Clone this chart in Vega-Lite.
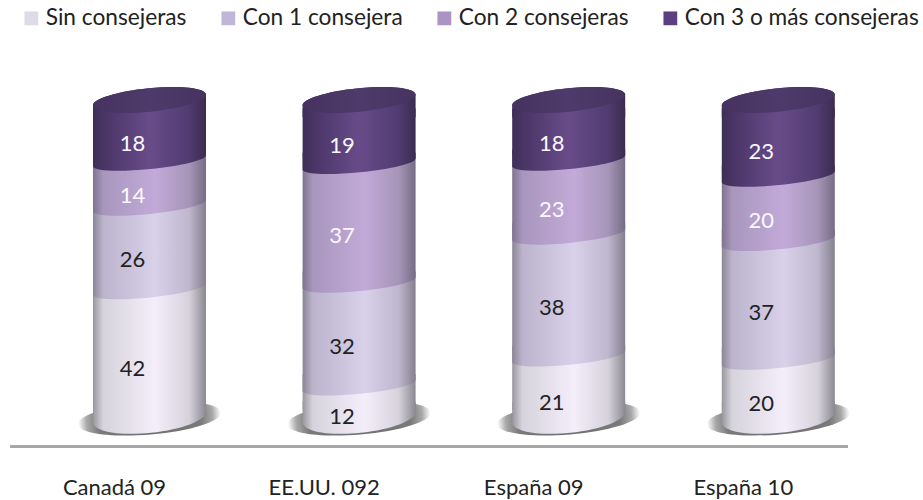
{
  "$schema": "https://vega.github.io/schema/vega-lite/v6.json",
  "width": 838,
  "height": 446,
  "autosize": {"type": "none"},
  "padding": {"left": 10, "top": 0, "right": 75, "bottom": 54},
  "background": "white",
  "config": {"view": {"stroke": null}, "font": "Lato"},
  "data": {"values": [
    {"category": "Canadá 09", "series": "Sin consejeras", "order": 1, "value": 42},
    {"category": "Canadá 09", "series": "Con 1 consejera", "order": 2, "value": 26},
    {"category": "Canadá 09", "series": "Con 2 consejeras", "order": 3, "value": 14},
    {"category": "Canadá 09", "series": "Con 3 o más consejeras", "order": 4, "value": 18},
    {"category": "EE.UU. 092", "series": "Sin consejeras", "order": 1, "value": 12},
    {"category": "EE.UU. 092", "series": "Con 1 consejera", "order": 2, "value": 32},
    {"category": "EE.UU. 092", "series": "Con 2 consejeras", "order": 3, "value": 37},
    {"category": "EE.UU. 092", "series": "Con 3 o más consejeras", "order": 4, "value": 19},
    {"category": "España 09", "series": "Sin consejeras", "order": 1, "value": 21},
    {"category": "España 09", "series": "Con 1 consejera", "order": 2, "value": 38},
    {"category": "España 09", "series": "Con 2 consejeras", "order": 3, "value": 23},
    {"category": "España 09", "series": "Con 3 o más consejeras", "order": 4, "value": 18},
    {"category": "España 10", "series": "Sin consejeras", "order": 1, "value": 20},
    {"category": "España 10", "series": "Con 1 consejera", "order": 2, "value": 37},
    {"category": "España 10", "series": "Con 2 consejeras", "order": 3, "value": 20},
    {"category": "España 10", "series": "Con 3 o más consejeras", "order": 4, "value": 23}
  ]},
  "transform": [
    {"stack": "value", "groupby": ["category"], "sort": [{"field": "order", "order": "ascending"}], "as": ["y0", "y1"]}
  ],
  "encoding": {
    "x": {
      "field": "category", "type": "nominal", "sort": null, "title": null,
      "scale": {"range": [34.7, 873.1], "paddingInner": 0, "paddingOuter": 0},
      "axis": {"domain": false, "ticks": false, "labelAngle": 0, "labelFontSize": 22, "labelColor": "#222222", "labelOffset": -35, "labelPadding": 31, "labelFont": "Lato", "labelFontWeight": "normal"}
    }
  },
  "layer": [
    {
      "transform": [{"filter": "datum.order === 1"}],
      "mark": {"type": "point", "filled": true, "opacity": 1, "size": 20449, "shape": "M-1,0.084 A1.0035,0.225,-4.8,1,0,1,-0.084 A1.0035,0.225,-4.8,1,0,-1,0.084 Z",
        "fill": {"gradient": "radial", "x1": 0.5, "y1": 0.5, "r1": 0, "x2": 0.5, "y2": 0.5, "r2": 0.5, "stops": [
          {"offset": 0, "color": "#6e6e6e"}, {"offset": 0.72, "color": "#7a7a7a"}, {"offset": 0.88, "color": "#a8a8a8"}, {"offset": 1, "color": "#ffffff"}]}},
      "encoding": {"y": {"field": "y0", "type": "quantitative", "title": null, "axis": null, "scale": {"domain": [0, 100], "range": [418.4, 97.4]}}}
    },
    {
      "mark": {"type": "rule", "color": "#a6a6a6", "strokeWidth": 2},
      "encoding": {"x": {"value": 0}, "x2": {"value": 838}, "y": {"datum": -8.8, "type": "quantitative"}}
    },
    {
      "transform": [{"filter": "datum.order === 1"}],
      "mark": {"type": "bar", "width": 113, "y2Offset": -8, "fill": {"gradient": "linear", "x1": 0, "x2": 1, "y1": 0, "y2": 0, "stops": [
        {"offset": 0, "color": "#98969e"}, {"offset": 0.09, "color": "#d6d3dc"}, {"offset": 0.55, "color": "#f4eefa"}, {"offset": 0.85, "color": "#d6d2dc"}, {"offset": 1, "color": "#8a8890"}]}},
      "encoding": {"y": {"field": "y1", "type": "quantitative"}, "y2": {"field": "y0"}}
    },
    {
      "transform": [{"filter": "datum.order === 1"}],
      "mark": {"type": "point", "filled": true, "opacity": 1, "size": 12769, "shape": "M-1,0.075 A1.005,0.284,-5.71,0,0,1,-0.125 L1,-0.3 L-1,-0.3 Z",
        "fill": {"gradient": "linear", "x1": 0, "x2": 1, "y1": 0, "y2": 0, "stops": [
        {"offset": 0, "color": "#98969e"}, {"offset": 0.09, "color": "#d6d3dc"}, {"offset": 0.55, "color": "#f4eefa"}, {"offset": 0.85, "color": "#d6d2dc"}, {"offset": 1, "color": "#8a8890"}]}},
      "encoding": {"y": {"field": "y0", "type": "quantitative"}}
    },
    {
      "transform": [{"filter": "datum.order === 2"}],
      "mark": {"type": "bar", "width": 113, "fill": {"gradient": "linear", "x1": 0, "x2": 1, "y1": 0, "y2": 0, "stops": [
        {"offset": 0, "color": "#8b8696"}, {"offset": 0.09, "color": "#bcb4cc"}, {"offset": 0.55, "color": "#d9d0ea"}, {"offset": 0.85, "color": "#beb7cd"}, {"offset": 1, "color": "#85808f"}]}},
      "encoding": {"y": {"field": "y1", "type": "quantitative"}, "y2": {"field": "y0"}}
    },
    {
      "transform": [{"filter": "datum.order === 2"}],
      "mark": {"type": "point", "filled": true, "opacity": 1, "size": 12769, "shape": "M-1,0.2 A1.005,0.147,-5.71,0,0,1,0 L1,-0.1 L-1,-0.1 Z",
        "fill": {"gradient": "linear", "x1": 0, "x2": 1, "y1": 0, "y2": 0, "stops": [
        {"offset": 0, "color": "#8b8696"}, {"offset": 0.09, "color": "#bcb4cc"}, {"offset": 0.55, "color": "#d9d0ea"}, {"offset": 0.85, "color": "#beb7cd"}, {"offset": 1, "color": "#85808f"}]}},
      "encoding": {"y": {"field": "y0", "type": "quantitative"}}
    },
    {
      "transform": [{"filter": "datum.order === 3"}],
      "mark": {"type": "bar", "width": 113, "fill": {"gradient": "linear", "x1": 0, "x2": 1, "y1": 0, "y2": 0, "stops": [
        {"offset": 0, "color": "#7f738e"}, {"offset": 0.09, "color": "#a896bd"}, {"offset": 0.55, "color": "#c2aad8"}, {"offset": 0.85, "color": "#a695b8"}, {"offset": 1, "color": "#776c85"}]}},
      "encoding": {"y": {"field": "y1", "type": "quantitative"}, "y2": {"field": "y0"}}
    },
    {
      "transform": [{"filter": "datum.order === 3"}],
      "mark": {"type": "point", "filled": true, "opacity": 1, "size": 12769, "shape": "M-1,0.2 A1.005,0.147,-5.71,0,0,1,0 L1,-0.1 L-1,-0.1 Z",
        "fill": {"gradient": "linear", "x1": 0, "x2": 1, "y1": 0, "y2": 0, "stops": [
        {"offset": 0, "color": "#7f738e"}, {"offset": 0.09, "color": "#a896bd"}, {"offset": 0.55, "color": "#c2aad8"}, {"offset": 0.85, "color": "#a695b8"}, {"offset": 1, "color": "#776c85"}]}},
      "encoding": {"y": {"field": "y0", "type": "quantitative"}}
    },
    {
      "transform": [{"filter": "datum.order === 4"}],
      "mark": {"type": "bar", "width": 113, "yOffset": 11, "fill": {"gradient": "linear", "x1": 0, "x2": 1, "y1": 0, "y2": 0, "stops": [
        {"offset": 0, "color": "#3e2e56"}, {"offset": 0.1, "color": "#4a3566"}, {"offset": 0.5, "color": "#684c8a"}, {"offset": 0.85, "color": "#513b70"}, {"offset": 1, "color": "#3b2c50"}]}},
      "encoding": {"y": {"field": "y1", "type": "quantitative"}, "y2": {"field": "y0"}}
    },
    {
      "transform": [{"filter": "datum.order === 4"}],
      "mark": {"type": "point", "filled": true, "opacity": 1, "size": 12769, "shape": "M-1,0.2 A1.005,0.147,-5.71,0,0,1,0 L1,-0.1 L-1,-0.1 Z",
        "fill": {"gradient": "linear", "x1": 0, "x2": 1, "y1": 0, "y2": 0, "stops": [
        {"offset": 0, "color": "#3e2e56"}, {"offset": 0.1, "color": "#4a3566"}, {"offset": 0.5, "color": "#684c8a"}, {"offset": 0.85, "color": "#513b70"}, {"offset": 1, "color": "#3b2c50"}]}},
      "encoding": {"y": {"field": "y0", "type": "quantitative"}}
    },
    {
      "transform": [{"filter": "datum.order === 4"}],
      "mark": {"type": "point", "filled": true, "opacity": 1, "size": 12769, "shape": "M-1,0.146 L-1,0.35 L1,0.35 L1,-0.054 A1.005,0.208,-5.71,0,0,-1,0.146 Z",
        "fill": {"gradient": "linear", "x1": 0, "x2": 1, "y1": 0, "y2": 0, "stops": [
        {"offset": 0, "color": "#3e2e56"}, {"offset": 0.1, "color": "#4a3566"}, {"offset": 0.5, "color": "#684c8a"}, {"offset": 0.85, "color": "#513b70"}, {"offset": 1, "color": "#3b2c50"}]}},
      "encoding": {"y": {"field": "y1", "type": "quantitative"}}
    },
    {
      "transform": [{"filter": "datum.order === 4"}],
      "mark": {"type": "point", "filled": true, "opacity": 1, "size": 12769, "shape": "M-1,0.146 A1.005,0.208,-5.71,0,0,1,-0.054 A1.005,0.208,-5.71,0,0,-1,0.146 Z",
        "fill": {"gradient": "linear", "x1": 0, "x2": 1, "y1": 0, "y2": 0, "stops": [
        {"offset": 0, "color": "#45325f"}, {"offset": 0.5, "color": "#4f3b6b"}, {"offset": 1, "color": "#463360"}]}},
      "encoding": {"y": {"field": "y1", "type": "quantitative"}}
    },
    {
      "transform": [
        {"filter": "datum.order <= 2"},
        {"fold": ["y0", "y1"], "as": ["edge", "edgeValue"]},
        {"aggregate": [{"op": "mean", "field": "edgeValue", "as": "middle"}], "groupby": ["category", "series", "value"]}
      ],
      "mark": {"type": "text", "fontSize": 22, "dx": -17, "dy": 18, "color": "#222222"},
      "encoding": {"y": {"field": "middle", "type": "quantitative"}, "text": {"field": "value", "type": "quantitative"}}
    },
    {
      "transform": [
        {"filter": "datum.order >= 3"},
        {"fold": ["y0", "y1"], "as": ["edge", "edgeValue"]},
        {"aggregate": [{"op": "mean", "field": "edgeValue", "as": "middle"}], "groupby": ["category", "series", "value"]}
      ],
      "mark": {"type": "text", "fontSize": 22, "dx": -17, "dy": 18, "color": "#fbf8ff"},
      "encoding": {"y": {"field": "middle", "type": "quantitative"}, "text": {"field": "value", "type": "quantitative"}}
    },
    {
      "mark": {"type": "point", "filled": true, "size": 0},
      "encoding": {
        "y": {"field": "y0", "type": "quantitative"},
        "color": {
          "field": "series", "type": "nominal",
          "scale": {"domain": ["Sin consejeras", "Con 1 consejera", "Con 2 consejeras", "Con 3 o más consejeras"], "range": ["#dddbe8", "#c1b6d7", "#ab93c5", "#5b3f80"]},
          "legend": {"title": null, "orient": "none", "legendX": 10, "legendY": 7, "direction": "horizontal", "columns": 4, "gridAlign": "none", "symbolType": "square", "symbolSize": 190, "symbolOpacity": 1, "symbolStrokeWidth": 0, "labelFontSize": 22.7, "labelColor": "#222222", "labelOffset": 3, "columnPadding": 30, "labelLimit": 300, "labelFont": "Lato"}
        }
      }
    }
  ]
}
